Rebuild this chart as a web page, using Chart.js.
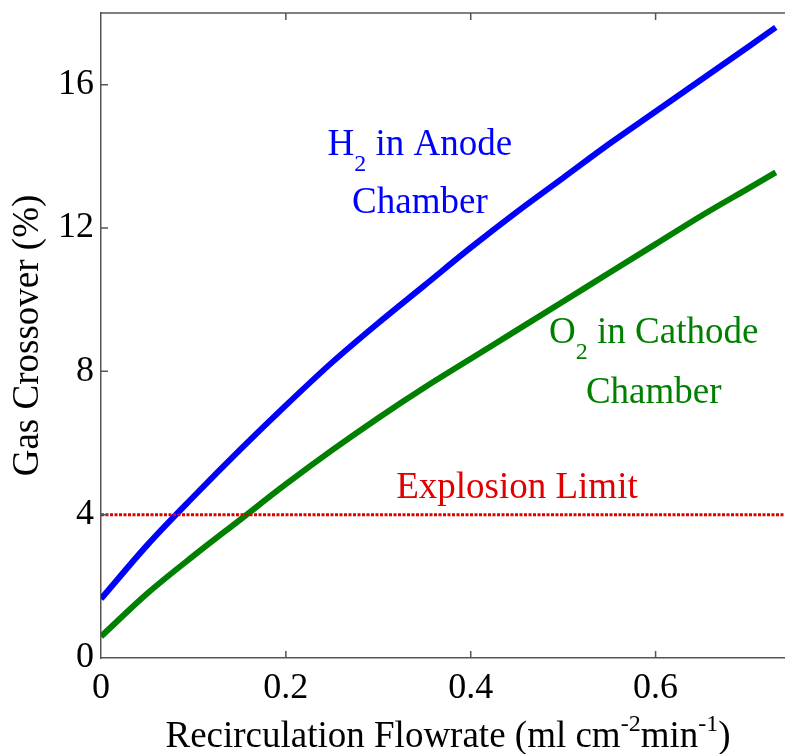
<!DOCTYPE html>
<html>
<head>
<meta charset="utf-8">
<script src="https://cdn.jsdelivr.net/npm/chart.js@4.4.0/dist/chart.umd.min.js"></script>
<style>
  html, body { margin: 0; padding: 0; background: #fff; }
</style>
</head>
<body>
<canvas id="myChart" width="785" height="754"></canvas>
<script>
// data
const flowrate = [0, 0.05, 0.1, 0.15, 0.2, 0.25, 0.3, 0.35, 0.4, 0.45, 0.5, 0.55, 0.6, 0.65, 0.7, 0.73];
const h2Anode = [1.65, 3.15, 4.5, 5.8, 7.05, 8.25, 9.35, 10.4, 11.45, 12.45, 13.4, 14.35, 15.25, 16.15, 17.05, 17.6];
const o2Cathode = [0.6, 1.8, 2.85, 3.85, 4.85, 5.8, 6.7, 7.55, 8.35, 9.15, 9.95, 10.75, 11.55, 12.35, 13.1, 13.55];
const limitX = [0, 0.74];
const limitY = [4, 4];
const xTicks = [0, 0.2, 0.4, 0.6];
const yTicks = [0, 4, 8, 12, 16];

const serif = "'Liberation Serif', 'Times New Roman', serif";
const axisColor = "#555";
const blue = "#0000ff";
const green = "#008000";
const red = "#e00000";

function toPoints(xs, ys) {
  return xs.map((v, i) => ({ x: v, y: ys[i] }));
}

// draw a run of text pieces, some sub/superscripted, centred on cx
function drawRich(ctx, parts, cx, baseline, color, size) {
  const small = Math.round(size * 0.65);
  let total = 0;
  parts.forEach(p => {
    ctx.font = (p.sub || p.sup ? small : size) + "px " + serif;
    p.w = ctx.measureText(p.t).width;
    total += p.w;
  });
  let px = cx - total / 2;
  ctx.fillStyle = color;
  ctx.textAlign = "left";
  ctx.textBaseline = "alphabetic";
  parts.forEach(p => {
    ctx.font = (p.sub || p.sup ? small : size) + "px " + serif;
    let by = baseline;
    if (p.sub) by += size * 0.45;
    if (p.sup) by -= size * 0.42;
    ctx.fillText(p.t, px, by);
    px += p.w;
  });
}

const decorations = {
  id: "decorations",
  afterDatasetsDraw(chart) {
    const { ctx, chartArea: a, scales: { x, y } } = chart;
    ctx.save();
    ctx.strokeStyle = axisColor;
    ctx.lineWidth = 1.5;
    // top edge of the box
    ctx.beginPath();
    ctx.moveTo(a.left, a.top);
    ctx.lineTo(a.right, a.top);
    ctx.stroke();
    // inward tick marks
    ctx.beginPath();
    xTicks.forEach(v => {
      if (v === 0) return;
      const px = x.getPixelForValue(v);
      ctx.moveTo(px, a.bottom); ctx.lineTo(px, a.bottom - 7);
      ctx.moveTo(px, a.top); ctx.lineTo(px, a.top + 7);
    });
    yTicks.forEach(v => {
      if (v === 0) return;
      const py = y.getPixelForValue(v);
      ctx.moveTo(a.left, py); ctx.lineTo(a.left + 7, py);
    });
    ctx.stroke();

    // curve labels
    drawRich(ctx, [{ t: "H" }, { t: "2", sub: true }, { t: " in Anode" }],
      x.getPixelForValue(0.345), y.getPixelForValue(14.05), blue, 37);
    drawRich(ctx, [{ t: "Chamber" }],
      x.getPixelForValue(0.345), y.getPixelForValue(12.43), blue, 37);
    drawRich(ctx, [{ t: "O" }, { t: "2", sub: true }, { t: " in Cathode" }],
      x.getPixelForValue(0.598), y.getPixelForValue(8.8), green, 37);
    drawRich(ctx, [{ t: "Chamber" }],
      x.getPixelForValue(0.598), y.getPixelForValue(7.13), green, 37);
    drawRich(ctx, [{ t: "Explosion Limit" }],
      x.getPixelForValue(0.45), y.getPixelForValue(4.47), red, 37);

    // x axis title with superscripts
    drawRich(ctx, [
      { t: "Recirculation Flowrate (ml cm" }, { t: "-2", sup: true },
      { t: "min" }, { t: "-1", sup: true }, { t: ")" }
    ], 448, 747, "#000", 37);
    ctx.restore();
  }
};

new Chart(document.getElementById("myChart"), {
  type: "line",
  data: {
    datasets: [
      {
        label: "Explosion Limit",
        data: toPoints(limitX, limitY),
        borderColor: red,
        borderWidth: 3,
        borderDash: [3, 1.5],
        pointRadius: 0,
        fill: false
      },
      {
        label: "H2 in Anode Chamber",
        data: toPoints(flowrate, h2Anode),
        borderColor: blue,
        borderWidth: 6,
        pointRadius: 0,
        cubicInterpolationMode: "monotone",
        fill: false
      },
      {
        label: "O2 in Cathode Chamber",
        data: toPoints(flowrate, o2Cathode),
        borderColor: green,
        borderWidth: 6,
        pointRadius: 0,
        cubicInterpolationMode: "monotone",
        fill: false
      }
    ]
  },
  options: {
    responsive: false,
    animation: false,
    layout: { padding: { top: 13, right: 0, left: 0, bottom: 0 } },
    plugins: {
      legend: { display: false },
      tooltip: { enabled: false }
    },
    scales: {
      x: {
        type: "linear",
        min: 0,
        max: 0.74,
        afterBuildTicks: s => { s.ticks = xTicks.map(v => ({ value: v })); },
        afterFit: s => { s.height = 96; s.paddingRight = 0; },
        grid: { display: false, drawTicks: false },
        border: { display: true, color: axisColor, width: 1.5 },
        ticks: {
          color: "#000",
          padding: 9,
          maxRotation: 0,
          font: { family: serif, size: 36 }
        }
      },
      y: {
        min: 0,
        max: 18,
        afterBuildTicks: s => { s.ticks = yTicks.map(v => ({ value: v })); },
        afterFit: s => { s.width = 101; s.paddingTop = 0; s.paddingBottom = 0; },
        grid: { display: false, drawTicks: false },
        border: { display: true, color: axisColor, width: 1.5 },
        ticks: {
          color: "#000",
          padding: 7,
          font: { family: serif, size: 36 }
        },
        title: {
          display: true,
          text: "Gas Crossover (%)",
          color: "#000",
          padding: { top: 6, bottom: 0 },
          font: { family: serif, size: 37 }
        }
      }
    }
  },
  plugins: [decorations]
});
</script>
</body>
</html>
